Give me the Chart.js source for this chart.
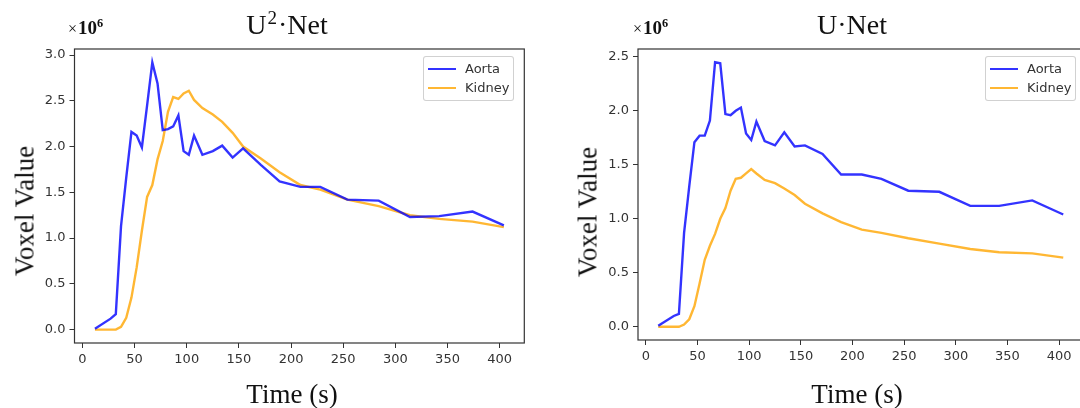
<!DOCTYPE html>
<html>
<head>
<meta charset="utf-8">
<script src="https://cdn.jsdelivr.net/npm/chart.js@4.4.0/dist/chart.umd.min.js"></script>
<style>
  html, body { margin: 0; padding: 0; background: #fff; }
  body { width: 1080px; height: 408px; position: relative; overflow: hidden; }
  canvas { position: absolute; top: 0; }
  .lbl { position: absolute; font-family: "Liberation Serif", "DejaVu Serif", serif; color: #111; line-height: 1; white-space: nowrap; }
  .title { font-size: 28px; transform: translateX(-50%); }
  .title sup { font-size: 0.68em; vertical-align: 0.5em; line-height: 0; margin: 0 1px; }
  .xlab { font-size: 27px; transform: translateX(-50%); }
  .ylab { font-size: 27px; transform: translate(-50%, -50%) rotate(-90deg); }
  .offset { font-size: 19px; }
  .offset i { font-style: normal; font-size: 16px; margin-right: 1px; }
  .offset b { font-weight: bold; }
  .offset sup { font-size: 0.65em; font-weight: bold; vertical-align: 0.6em; line-height: 0; }
  .legend { position: absolute; background: #fff; border: 1px solid rgba(204,204,204,0.9); border-radius: 3px;
            padding: 2px 4px 3px 4px; font: 13px "DejaVu Sans", sans-serif; color: #333; }
  .legend div { line-height: 19px; }
  .legend span { display: inline-block; width: 28px; height: 2px; vertical-align: middle; margin-right: 9px; margin-top: -2px; }
</style>
</head>
<body>
<canvas id="u2net" width="540" height="408" style="left:0"></canvas>
<canvas id="unet" width="560" height="408" style="left:540px"></canvas>

<div class="lbl title" style="left:287px; top:11px">U<sup>2</sup>·Net</div>
<div class="lbl offset" style="left:68px; top:18px"><i>×</i><b>10</b><sup>6</sup></div>
<div class="lbl ylab" style="left:25px; top:211px">Voxel Value</div>
<div class="lbl xlab" style="left:292px; top:381px">Time (s)</div>

<div class="lbl title" style="left:852px; top:11px">U·Net</div>
<div class="lbl offset" style="left:633px; top:18px"><i>×</i><b>10</b><sup>6</sup></div>
<div class="lbl ylab" style="left:588px; top:212px">Voxel Value</div>
<div class="lbl xlab" style="left:857px; top:381px">Time (s)</div>

<div class="legend" style="left:423px; top:56px">
  <div><span style="background:rgba(0,0,255,0.8)"></span>Aorta</div>
  <div><span style="background:rgba(255,165,0,0.8)"></span>Kidney</div>
</div>
<div class="legend" style="left:985px; top:56px">
  <div><span style="background:rgba(0,0,255,0.8)"></span>Aorta</div>
  <div><span style="background:rgba(255,165,0,0.8)"></span>Kidney</div>
</div>

<script>
        // acquisition times (s) and mean voxel values (x10^6)
        const times = [12, 27, 32, 37, 42, 47, 52, 57, 62, 67, 72, 77, 82, 87, 92, 97, 102, 107,
                       115, 125, 134, 144, 154, 171, 189, 209, 228, 254, 284, 314, 342, 374, 404];

        const u2netAorta = [0.01, 0.12, 0.17, 1.13, 1.66, 2.16, 2.12, 1.99, 2.45, 2.92, 2.69, 2.18, 2.19, 2.22, 2.34, 1.95, 1.91, 2.12,
                            1.91, 1.95, 2.01, 1.88, 1.98, 1.80, 1.62, 1.56, 1.56, 1.42, 1.41, 1.23, 1.24, 1.29, 1.14];
        const u2netKidney = [0, 0, 0, 0.03, 0.13, 0.35, 0.68, 1.08, 1.45, 1.58, 1.86, 2.06, 2.38, 2.54, 2.52, 2.58, 2.61, 2.51,
                             2.42, 2.35, 2.27, 2.15, 2.00, 1.87, 1.72, 1.58, 1.53, 1.42, 1.35, 1.25, 1.21, 1.18, 1.12];

        const unetAorta = [0.01, 0.10, 0.12, 0.87, 1.30, 1.71, 1.77, 1.77, 1.91, 2.45, 2.44, 1.97, 1.96, 2.00, 2.03, 1.79, 1.73, 1.90,
                           1.72, 1.68, 1.80, 1.67, 1.68, 1.60, 1.41, 1.41, 1.37, 1.26, 1.25, 1.12, 1.12, 1.17, 1.04];
        const unetKidney = [0, 0, 0, 0.02, 0.07, 0.19, 0.40, 0.62, 0.75, 0.86, 1.00, 1.10, 1.26, 1.37, 1.38, 1.42, 1.46, 1.42,
                            1.36, 1.33, 1.28, 1.22, 1.14, 1.05, 0.97, 0.90, 0.87, 0.82, 0.77, 0.72, 0.69, 0.68, 0.64];

        const xTickStep = 50;
        const yTickStep = 0.5;

        const AORTA_COLOR = 'rgba(0, 0, 255, 0.8)';
        const KIDNEY_COLOR = 'rgba(255, 165, 0, 0.8)';
        const tickFont = { family: '"DejaVu Sans", sans-serif', size: 13 };

        // matplotlib style box around the plot area
        const framePlugin = {
            id: 'frame',
            afterDraw(chart) {
                const { ctx, chartArea: a } = chart;
                ctx.save();
                ctx.strokeStyle = '#333';
                ctx.lineWidth = 1.2;
                ctx.strokeRect(a.left, a.top, a.right - a.left, a.bottom - a.top);
                ctx.restore();
            }
        };

        function toPoints(values) {
            return values.map((v, i) => ({ x: times[i], y: v }));
        }

        function makeChart(id, aorta, kidney, box) {
            // 5% auto margins like matplotlib
            const all = aorta.concat(kidney);
            const yLo = Math.min(...all), yHi = Math.max(...all);
            const yPad = (yHi - yLo) * 0.05;
            const xLo = Math.min(...times), xHi = Math.max(...times);
            const xPad = (xHi - xLo) * 0.05;

            const ctx = document.getElementById(id).getContext('2d');
            return new Chart(ctx, {
                type: 'line',
                data: {
                    datasets: [
                        { label: 'Aorta', data: toPoints(aorta), borderColor: AORTA_COLOR, borderWidth: 2.4,
                          pointRadius: 0, tension: 0, fill: false },
                        { label: 'Kidney', data: toPoints(kidney), borderColor: KIDNEY_COLOR, borderWidth: 2.4,
                          pointRadius: 0, tension: 0, fill: false }
                    ]
                },
                options: {
                    responsive: false,
                    animation: false,
                    layout: { padding: { left: 0, top: box.top, right: box.right, bottom: 0 } },
                    plugins: {
                        legend: { display: false },
                        tooltip: { enabled: false }
                    },
                    scales: {
                        x: {
                            type: 'linear',
                            min: xLo - xPad,
                            max: xHi + xPad,
                            border: { display: false },
                            grid: { drawOnChartArea: false, drawTicks: true, tickLength: 5, color: '#333', lineWidth: 1 },
                            ticks: { stepSize: xTickStep, includeBounds: false, autoSkip: false, maxRotation: 0,
                                     font: tickFont, color: '#333', padding: 4 },
                            afterFit: s => { s.height = box.xh; }
                        },
                        y: {
                            min: yLo - yPad,
                            max: yHi + yPad,
                            border: { display: false },
                            grid: { drawOnChartArea: false, drawTicks: true, tickLength: 5, color: '#333', lineWidth: 1 },
                            ticks: { stepSize: yTickStep, includeBounds: false, font: tickFont, color: '#333', padding: 4,
                                     callback: v => v.toFixed(1) },
                            afterFit: s => { s.width = box.yw; }
                        }
                    }
                },
                plugins: [framePlugin]
            });
        }

        makeChart('u2net', u2netAorta, u2netKidney, { top: 49, right: 15.7, xh: 65, yw: 74.5 });
        makeChart('unet', unetAorta, unetKidney, { top: 49, right: 16.5, xh: 68, yw: 98 });
</script>
</body>
</html>
